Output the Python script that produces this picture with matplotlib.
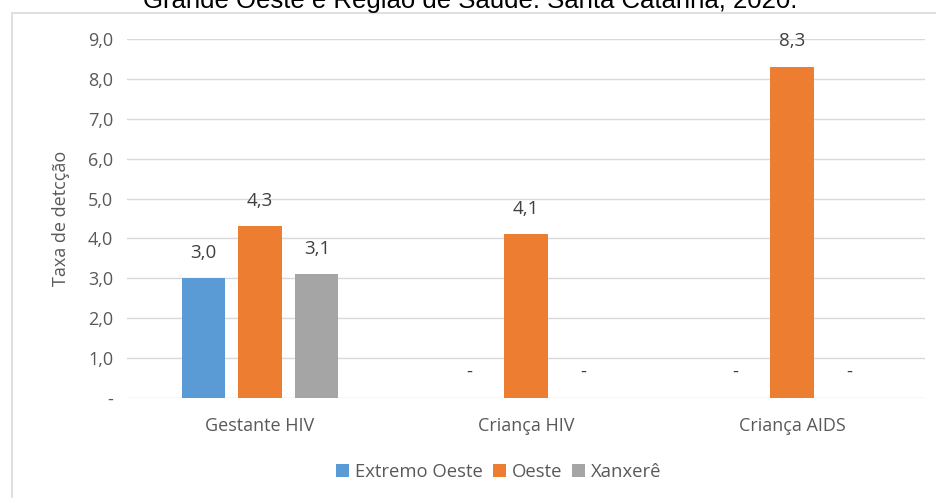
import numpy as np
import matplotlib.pyplot as plt
from matplotlib.patches import Rectangle

categories = ["Gestante HIV", "Criança HIV", "Criança AIDS"]
series = ["Extremo Oeste", "Oeste", "Xanxerê"]
values = {
    "Extremo Oeste": [3.0, 0.0, 0.0],
    "Oeste": [4.3, 4.1, 8.3],
    "Xanxerê": [3.1, 0.0, 0.0],
}
colors = {"Extremo Oeste": "#5b9bd5", "Oeste": "#ed7d31", "Xanxerê": "#a5a5a5"}
yticks = [0, 1, 2, 3, 4, 5, 6, 7, 8, 9]

plt.rcParams['font.family'] = ['Open Sans', 'DejaVu Sans']
txt = "#595959"

fig = plt.figure(figsize=(9.36, 4.98), dpi=100)
ax = fig.add_axes([127 / 936, 1 - 398 / 498, 798 / 936, 359 / 498])

# chart frame
fig.patches.append(Rectangle((12 / 936, -0.01), 0.995, 1 - 13 / 498 + 0.01,
                             transform=fig.transFigure, fill=False,
                             edgecolor="#d9d9d9", linewidth=1.2))

x = np.arange(len(categories))
width = 0.162
offsets = [-0.214, 0, 0.214]
for s, off in zip(series, offsets):
    vals = values[s]
    ax.bar(x + off, vals, width, color=colors[s], label=s, zorder=3)
    for xi, v in zip(x, vals):
        lab = "-" if v == 0 else f"{v:.1f}".replace(".", ",")
        ax.text(xi + off, v + 0.42, lab, ha="center", va="bottom",
                fontsize=13.5, color="#404040")

ax.set_xlim(-0.5, 2.5)
ax.set_ylim(0, 9)
ax.set_yticks(yticks)
ax.set_yticklabels(["-"] + [f"{t:.1f}".replace(".", ",") for t in yticks[1:]])
ax.set_xticks(x)
ax.set_xticklabels(categories)
ax.tick_params(axis="both", length=0, colors=txt, labelsize=13)
ax.tick_params(axis="y", pad=10)
ax.tick_params(axis="x", pad=14)
ax.grid(axis="y", color="#d9d9d9", linewidth=1, zorder=0)
for sp in ax.spines.values():
    sp.set_visible(False)
ax.set_ylabel("Taxa de detcção", color=txt, fontsize=13, labelpad=13)

ax.legend(loc="upper center", bbox_to_anchor=(0.466, -0.135), ncol=3,
          frameon=False, fontsize=13.3, handlelength=0.7, handleheight=0.7,
          handletextpad=0.35, columnspacing=0.5, labelcolor=txt)

fig.text(0.502, 1 - 8 / 498, "Grande Oeste e Região de Saúde. Santa Catarina, 2020.",
         ha="center", va="baseline", fontsize=18.5, family="Liberation Sans",
         color="#000000")

fig.savefig("out.png", dpi=100)
